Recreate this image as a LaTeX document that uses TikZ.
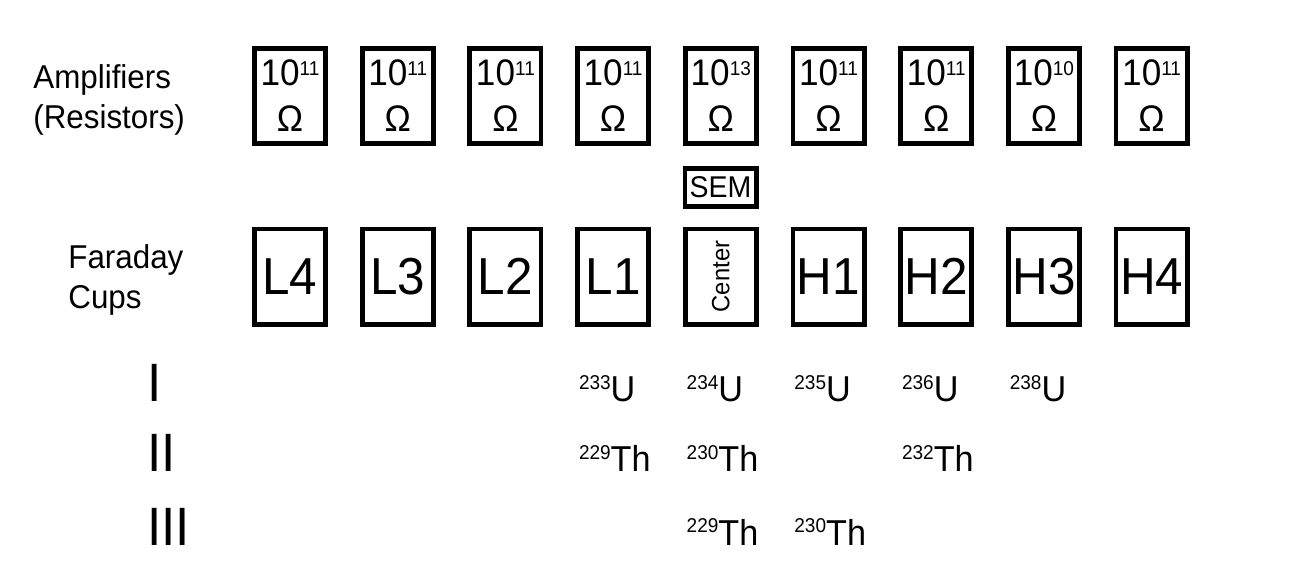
\documentclass[tikz,border=0pt]{standalone}
\usepackage{fontspec}
\setmainfont{Liberation Sans}[FakeStretch=0.95]

\newcommand{\isotope}[2]{\raisebox{6.2pt}{\fontsize{10}{10}\selectfont #1}#2}
\newcommand{\ohms}[1]{10\raisebox{5.4pt}{\fontsize{10}{10}\selectfont #1}\\Ω}

\begin{document}
\begin{tikzpicture}[x=0.5pt,y=-0.5pt,
    box/.style={draw, line width=2.4pt, minimum width=35.6pt, minimum height=47.6pt, inner sep=0pt},
    amp/.style={box, align=center, font=\fontsize{18.5}{23}\selectfont},
    cup/.style={box, font=\fontsize{26}{26}\selectfont},
    iso/.style={anchor=base west, inner sep=0pt, font=\fontsize{18}{18}\selectfont},
    row/.style={anchor=base west, inner sep=0pt, font=\fontsize{27}{27}\selectfont},
    sidetext/.style={anchor=north west, inner sep=0pt, align=left, font=\fontsize{16.5}{20}\selectfont}]

    \useasboundingbox (0,0) rectangle (1300,574);

    % Side labels
    \node[sidetext] (amplabel) at (33,64) {Amplifiers\\(Resistors)};
    \node[sidetext] (cuplabel) at (68,244) {Faraday\\Cups};

    % Amplifiers
    \foreach \i/\r in {1/11,2/11,3/11,4/11,5/13,6/11,7/11,8/10,9/11}
        \node[amp] (amp\i) at ({290+107.7*(\i-1)},96) {\ohms{\r}};

    % SEM
    \node[box, minimum height=19.1pt, font=\fontsize{15}{15}\selectfont] (sem) at (720.5,187.5) {SEM};

    % Faraday cups
    \foreach \c/\t [count=\i] in {L4/L4,L3/L3,L2/L2,L1/L1,
            C/\rotatebox{90}{\fontsize{12.5}{12.5}\selectfont Center},H1/H1,H2/H2,H3/H3,H4/H4}
        \node[cup] (\c) at ({290+107.7*(\i-1)},276.5) {\t};

    % Rows
    \foreach \r/\y in {I/401.7,II/471.7,III/545}
        \node[row] (row\r) at (147,\y) {\r};

    % Isotopes
    \foreach \r/\c/\m/\e in {1/4/233/U,1/5/234/U,1/6/235/U,1/7/236/U,1/8/238/U,
            2/4/229/Th,2/5/230/Th,2/7/232/Th,3/5/229/Th,3/6/230/Th}{
        \pgfmathsetmacro{\y}{{401.7,471.7,545}[\r-1]}
        \node[iso] (iso\r-\c) at ({290+107.7*(\c-1)-34.5},\y) {\isotope{\m}{\e}};
    }
\end{tikzpicture}
\end{document}
